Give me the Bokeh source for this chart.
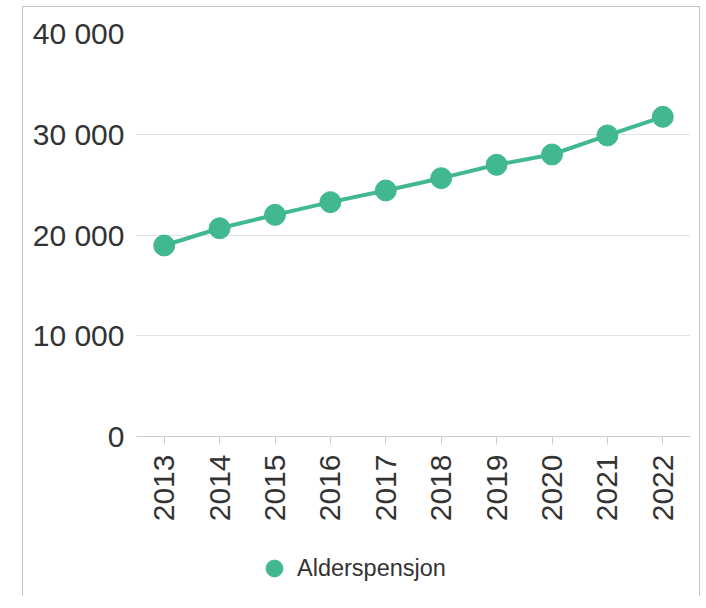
import math
from bokeh.plotting import figure
from bokeh.models import Range1d, FixedTicker, Legend, LegendItem
from bokeh.embed import file_html
from bokeh.resources import INLINE

years = [2013, 2014, 2015, 2016, 2017, 2018, 2019, 2020, 2021, 2022]
alderspensjon = [18960, 20670, 22000, 23260, 24420, 25640, 26970, 27990, 29880, 31730]
series_name = "Alderspensjon"
y_ticks = [0, 10000, 20000, 30000, 40000]
y_tick_labels = ["0", "10 000", "20 000", "30 000", "40 000"]

GREEN = "#41b88d"
FONT = "Liberation Sans"
TEXT = "#333333"

H = 590          # canvas height
TOP = 26         # space above the plotting area
ZERO_Y = 429     # canvas y of the value 0
y_max = 40000
y_min = -y_max * (H - ZERO_Y) / (ZERO_Y - TOP)   # room under the axis for labels and legend

p = figure(width=678, height=H, output_backend="svg", toolbar_location=None,
           x_range=Range1d(2012.5, 2022.5), y_range=Range1d(y_min, y_max),
           min_border_left=113, min_border_right=11, min_border_top=TOP,
           min_border_bottom=0)
p.styles = {"border-top": "1px solid #c4c4c4", "border-left": "1px solid #c4c4c4",
            "border-right": "1px solid #c4c4c4", "margin-left": "22px",
            "margin-top": "6px"}
p.outline_line_color = None
p.background_fill_color = "white"
p.border_fill_color = "white"

line_r = p.line(years, alderspensjon, line_width=4, color=GREEN)
pts = p.scatter(years, alderspensjon, size=21, color=GREEN)

# axes
p.xaxis.fixed_location = 0
p.xaxis.ticker = FixedTicker(ticks=years)
p.xaxis.major_label_orientation = math.pi / 2
p.xaxis.axis_line_color = "#cccccc"
p.xaxis.major_tick_line_color = "#cccccc"
p.xaxis.major_tick_in = 0
p.xaxis.major_tick_out = 8
p.xaxis.minor_tick_line_color = None
p.xaxis.major_label_standoff = 10
p.xaxis.major_label_text_font = FONT
p.xaxis.major_label_text_font_size = "30px"
p.xaxis.major_label_text_color = TEXT

p.yaxis.ticker = FixedTicker(ticks=y_ticks)
p.yaxis.major_label_overrides = {t: l for t, l in zip(y_ticks, y_tick_labels)}
p.yaxis.axis_line_color = None
p.yaxis.major_tick_line_color = None
p.yaxis.minor_tick_line_color = None
p.yaxis.major_tick_in = 0
p.yaxis.major_tick_out = 0
p.yaxis.major_label_standoff = 12
p.yaxis.major_label_text_font = FONT
p.yaxis.major_label_text_font_size = "30px"
p.yaxis.major_label_text_color = TEXT

p.xgrid.grid_line_color = None
p.ygrid.grid_line_color = "#c4c4c4"
p.ygrid.grid_line_dash = "1 1"
p.ygrid.grid_line_width = 1

legend = Legend(items=[LegendItem(label=series_name, renderers=[pts])],
                location=(117, 8), orientation="horizontal",
                glyph_width=42, glyph_height=42, label_standoff=2,
                padding=0, margin=0, border_line_color=None,
                background_fill_alpha=0,
                label_text_font=FONT, label_text_font_size="23.5px",
                label_text_color=TEXT)
p.add_layout(legend, "center")

open("out.html", "w").write(file_html(p, INLINE))
